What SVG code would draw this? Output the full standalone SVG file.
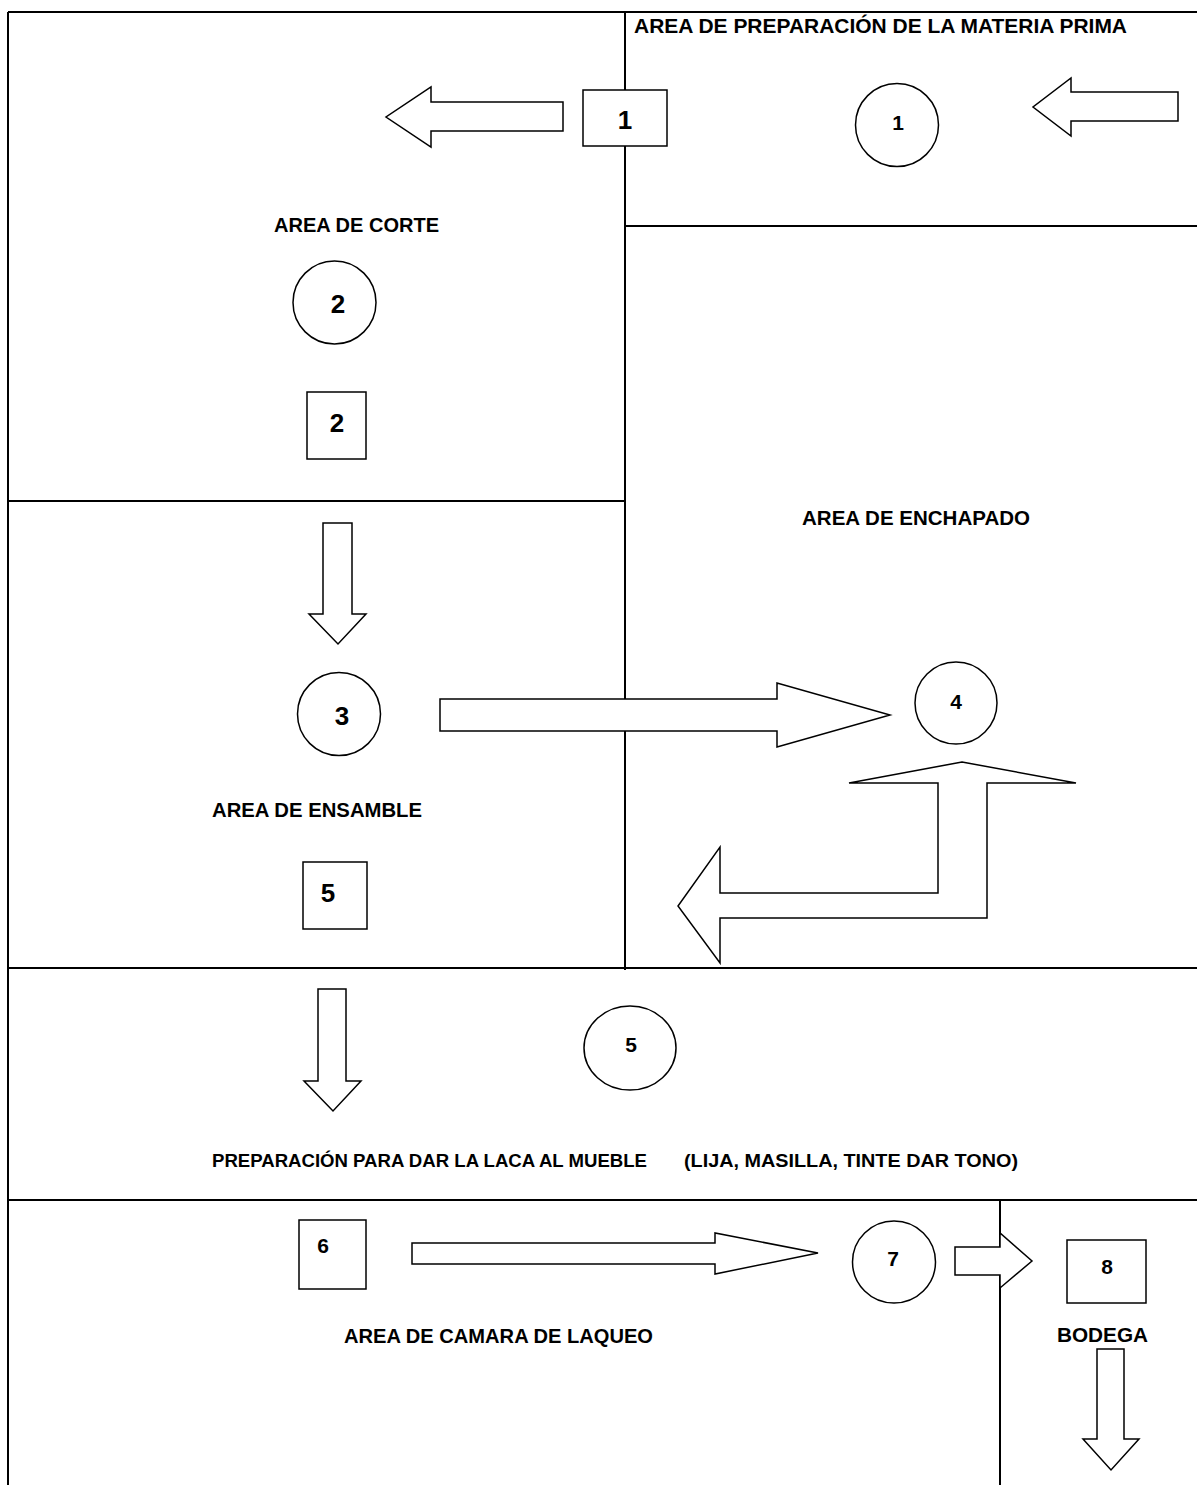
<svg xmlns="http://www.w3.org/2000/svg" width="1197" height="1485" viewBox="0 0 1197 1485">
<style>
.wall{stroke:#000;stroke-width:2;fill:none}
.shape{stroke:#000;stroke-width:1.5;fill:#fff}
.arrow{stroke:#000;stroke-width:1.5;fill:#fff;stroke-linejoin:miter}
text{font-family:"Liberation Sans",Arial,sans-serif;font-weight:bold;fill:#000}
.lbl{font-size:20.5px}
.big{font-size:26px;text-anchor:middle}
.sm{font-size:21px;text-anchor:middle}
.mid{font-size:18.5px}
</style>
<rect width="1197" height="1485" fill="#fff"/>
<g id="walls">
<line class="wall" x1="8" y1="12" x2="1197" y2="12"/>
<line class="wall" x1="8" y1="12" x2="8" y2="1485"/>
<line class="wall" x1="625" y1="12" x2="625" y2="970"/>
<line class="wall" x1="625" y1="226" x2="1197" y2="226"/>
<line class="wall" x1="8" y1="501" x2="625" y2="501"/>
<line class="wall" x1="8" y1="968" x2="1197" y2="968"/>
<line class="wall" x1="8" y1="1200" x2="1197" y2="1200"/>
<line class="wall" x1="1000" y1="1200" x2="1000" y2="1485"/>
</g>
<g id="labels">
<text class="lbl" x="634" y="33" textLength="493" lengthAdjust="spacingAndGlyphs">AREA DE PREPARACIÓN DE LA MATERIA PRIMA</text>
<text class="lbl" x="274" y="232" textLength="165" lengthAdjust="spacingAndGlyphs">AREA DE CORTE</text>
<text class="lbl" x="802" y="525" textLength="228" lengthAdjust="spacingAndGlyphs">AREA DE ENCHAPADO</text>
<text class="lbl" x="212" y="817" textLength="210" lengthAdjust="spacingAndGlyphs">AREA DE ENSAMBLE</text>
<text class="mid" x="212" y="1167" textLength="435" lengthAdjust="spacingAndGlyphs">PREPARACIÓN PARA DAR LA LACA AL MUEBLE</text>
<text class="mid" x="684" y="1167" textLength="334" lengthAdjust="spacingAndGlyphs">(LIJA, MASILLA, TINTE DAR TONO)</text>
<text class="lbl" x="344" y="1343" textLength="309" lengthAdjust="spacingAndGlyphs">AREA DE CAMARA DE LAQUEO</text>
<text class="lbl" x="1057" y="1342" textLength="91" lengthAdjust="spacingAndGlyphs">BODEGA</text>
</g>
<g id="connectors">
<polygon class="arrow" points="563,102 431,102 431,87 386,117 431,147 431,131 563,131"/>
<polygon class="arrow" points="1178,92 1071,92 1071,78 1033,107 1071,136 1071,121 1178,121"/>
<polygon class="arrow" points="323,523 352,523 352,614 366,614 338,644 309,614 323,614"/>
<polygon class="arrow" points="440,699 777,699 777,683 890,715 777,747 777,731 440,731"/>
<polygon class="arrow" points="962,762 1076,783 987,783 987,918 720,918 720,963 678,906 720,847 720,893 938,893 938,783 849,783"/>
<polygon class="arrow" points="318,989 346,989 346,1081 361,1081 333,1111 304,1081 318,1081"/>
<polygon class="arrow" points="412,1243 715,1243 715,1233 818,1253 715,1274 715,1264 412,1264"/>
<polygon class="arrow" points="955,1247 1000,1247 1000,1233 1032,1261 1000,1288 1000,1275 955,1275"/>
<polygon class="arrow" points="1097,1349 1124,1349 1124,1439 1139,1439 1111,1470 1083,1439 1097,1439"/>
</g>
<g id="box1"><rect class="shape" x="583" y="90" width="84" height="56"/><text class="big" x="625" y="129">1</text></g>
<g id="circle1"><ellipse class="shape" cx="897" cy="125" rx="41.5" ry="41.5"/><text class="sm" x="898" y="130">1</text></g>
<g id="circle2"><ellipse class="shape" cx="334.5" cy="302.5" rx="41.5" ry="41.5"/><text class="big" x="338" y="313">2</text></g>
<g id="box2"><rect class="shape" x="307" y="392" width="59" height="67"/><text class="big" x="337" y="432">2</text></g>
<g id="circle3"><ellipse class="shape" cx="339" cy="714" rx="41.5" ry="41.5"/><text class="big" x="342" y="725">3</text></g>
<g id="circle4"><ellipse class="shape" cx="956" cy="703" rx="41" ry="41"/><text class="sm" x="956" y="709">4</text></g>
<g id="box5"><rect class="shape" x="303" y="862" width="64" height="67"/><text class="big" x="328" y="902">5</text></g>
<g id="circle5"><ellipse class="shape" cx="630" cy="1048" rx="46" ry="42"/><text class="sm" x="631" y="1052">5</text></g>
<g id="box6"><rect class="shape" x="299" y="1220" width="67" height="69"/><text class="sm" x="323" y="1253">6</text></g>
<g id="circle7"><ellipse class="shape" cx="894" cy="1262" rx="41.5" ry="41"/><text class="sm" x="893" y="1266">7</text></g>
<g id="box8"><rect class="shape" x="1067" y="1240" width="79" height="63"/><text class="sm" x="1107" y="1274">8</text></g>
</svg>
